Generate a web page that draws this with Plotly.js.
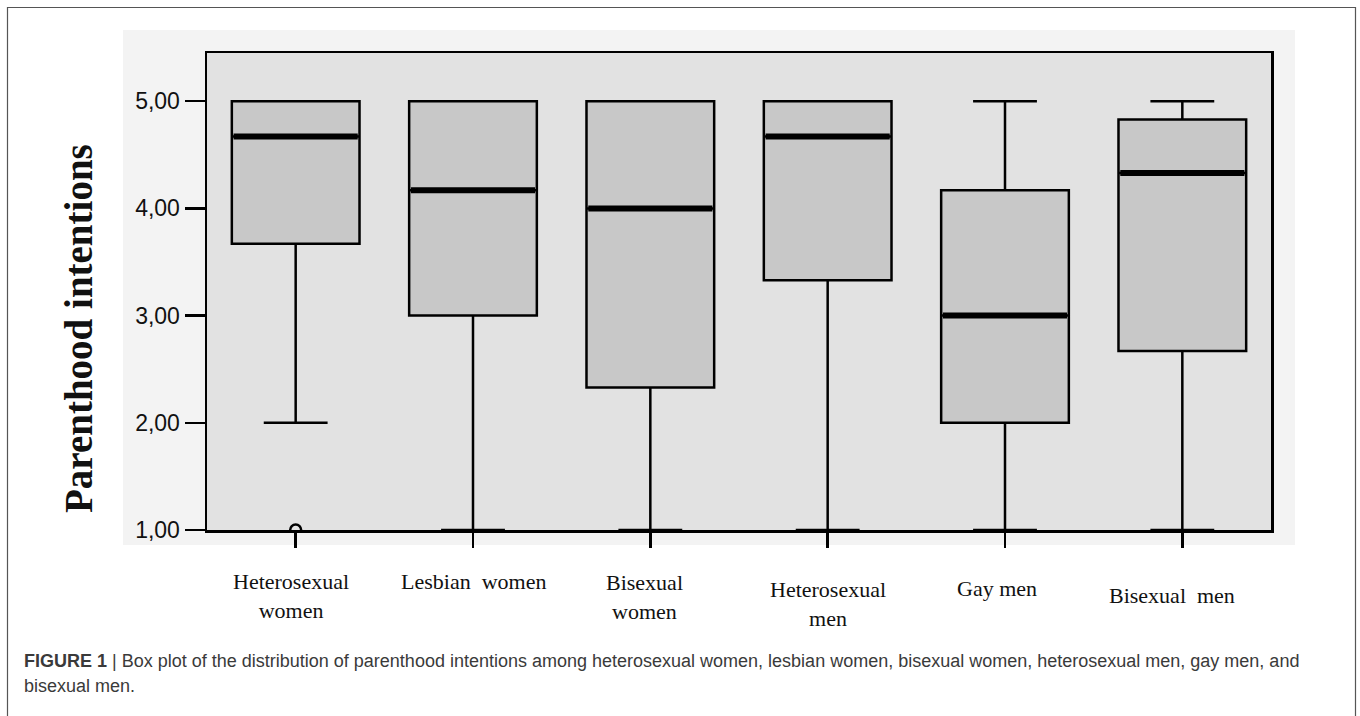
<!DOCTYPE html>
<html>
<head>
<meta charset="utf-8">
<script src="https://cdn.plot.ly/plotly-3.0.1.min.js"></script>
<style>html,body{margin:0;padding:0;background:#fff;}#chart{width:1360px;height:716px;}</style>
</head>
<body>
<div id="chart"></div>
<script>
// ---- data ----
const categories = ["Heterosexual women", "Lesbian women", "Bisexual women", "Heterosexual men", "Gay men", "Bisexual men"];
const categoryLabels = ["Heterosexual<br>women", "Lesbian\u00a0\u00a0women", "Bisexual<br>women", "Heterosexual<br>men", "Gay\u00a0men", "Bisexual\u00a0\u00a0men"];
const lowerWhisker = [2.00, 1.00, 1.00, 1.00, 1.00, 1.00];
const q1Values     = [3.67, 3.00, 2.33, 3.33, 2.00, 2.67];
const medianValues = [4.67, 4.17, 4.00, 4.67, 3.00, 4.33];
const q3Values     = [5.00, 5.00, 5.00, 5.00, 4.17, 4.83];
const upperWhisker = [5.00, 5.00, 5.00, 5.00, 5.00, 5.00];
const outlierCategory = ["Heterosexual women"];
const outlierValues = [1.00];
const yTickValues = [1, 2, 3, 4, 5];
const yTitle = "Parenthood intentions";
const captionLine1 = "<b>FIGURE 1</b> | Box plot of the distribution of parenthood intentions among heterosexual women, lesbian women, bisexual women, heterosexual men, gay men, and";
const captionLine2 = "bisexual men.";

// ---- styling (not data) ----
const labelShift = [-37, -37, -38, -45, -44, -51];
const labelXShift = [-5, 0, -6, 0, -8, -10];

const boxTrace = {
  type: "box",
  x: categories,
  q1: q1Values,
  median: medianValues,
  q3: q3Values,
  lowerfence: lowerWhisker,
  upperfence: upperWhisker,
  width: 0.72,
  whiskerwidth: 0.5,
  fillcolor: "#c8c8c8",
  line: {color: "#000", width: 2.5},
  boxpoints: false,
  hoverinfo: "skip",
  showlegend: false
};
const medianTrace = {
  type: "box",
  x: categories,
  q1: medianValues,
  median: medianValues,
  q3: medianValues,
  lowerfence: medianValues,
  upperfence: medianValues,
  width: 0.70,
  whiskerwidth: 0,
  fillcolor: "rgba(0,0,0,0)",
  line: {color: "#000", width: 6},
  boxpoints: false,
  hoverinfo: "skip",
  showlegend: false
};
const outlierTrace = {
  type: "scatter",
  mode: "markers",
  x: outlierCategory,
  y: outlierValues,
  marker: {symbol: "circle-open", size: 11, color: "#000", line: {width: 2.5, color: "#000"}},
  hoverinfo: "skip",
  showlegend: false
};

const L = 207, R = 89, T = 53, B = 186, W = 1360, H = 716;
const pw = W - L - R, ph = H - T - B;
const px = v => (v - L) / pw;
const py = v => (H - B - v) / ph;

const annotations = categories.map((c, i) => ({
  x: c, xref: "x", y: 0, yref: "paper",
  xanchor: "center", yanchor: "top",
  yshift: labelShift[i], xshift: labelXShift[i],
  text: categoryLabels[i], showarrow: false,
  font: {family: "Liberation Serif, Times New Roman, serif", size: 22, color: "#111"},
  align: "center"
}));
annotations.push({
  x: px(78), y: py(329), xref: "paper", yref: "paper",
  xanchor: "center", yanchor: "middle", textangle: -90,
  text: "<b>" + yTitle + "</b>", showarrow: false,
  font: {family: "Liberation Serif, Times New Roman, serif", size: 39, color: "#111"}
});
annotations.push({
  x: px(22), y: py(661), xref: "paper", yref: "paper",
  xanchor: "left", yanchor: "middle",
  text: captionLine1, showarrow: false,
  font: {family: "Liberation Sans, Arial, sans-serif", size: 18, color: "#3a3a3a"}
});
annotations.push({
  x: px(22), y: py(686), xref: "paper", yref: "paper",
  xanchor: "left", yanchor: "middle",
  text: captionLine2, showarrow: false,
  font: {family: "Liberation Sans, Arial, sans-serif", size: 18, color: "#3a3a3a"}
});

const shapes = [
  {type: "rect", xref: "paper", yref: "paper", layer: "below",
   x0: px(7.5), x1: px(1355.5), y0: py(730), y1: py(7.5),
   fillcolor: "#fff", line: {color: "#555", width: 1.2}},
  {type: "rect", xref: "paper", yref: "paper", layer: "below",
   x0: px(123), x1: px(1295), y0: py(545), y1: py(30),
   fillcolor: "#f3f3f3", line: {width: 0}},
  {type: "rect", xref: "paper", yref: "paper", layer: "below",
   x0: 0, x1: 1, y0: 0, y1: 1,
   fillcolor: "#e2e2e2", line: {width: 0}}
];

const layout = {
  width: W, height: H,
  margin: {l: L, r: R, t: T, b: B, pad: 0},
  paper_bgcolor: "#fff",
  plot_bgcolor: "rgba(0,0,0,0)",
  separators: ",.",
  boxmode: "overlay",
  showlegend: false,
  xaxis: {
    type: "category",
    categoryorder: "array", categoryarray: categories,
    range: [-0.5, categories.length - 0.5],
    showgrid: false, zeroline: false,
    showline: true, linecolor: "#000", linewidth: 2.5, mirror: true,
    ticks: "outside", ticklen: 15, tickwidth: 2.5, tickcolor: "#000",
    showticklabels: false
  },
  yaxis: {
    range: [1, 5.45],
    tickvals: yTickValues, tickformat: ".2f",
    showgrid: false, zeroline: false,
    showline: true, linecolor: "#000", linewidth: 2.5, mirror: true,
    ticks: "outside", ticklen: 20, tickwidth: 2.5, tickcolor: "#000",
    tickfont: {family: "Liberation Sans, Arial, sans-serif", size: 23, color: "#111"}
  },
  annotations: annotations,
  shapes: shapes
};

Plotly.newPlot("chart", [boxTrace, medianTrace, outlierTrace], layout, {staticPlot: true});
</script>
</body>
</html>
